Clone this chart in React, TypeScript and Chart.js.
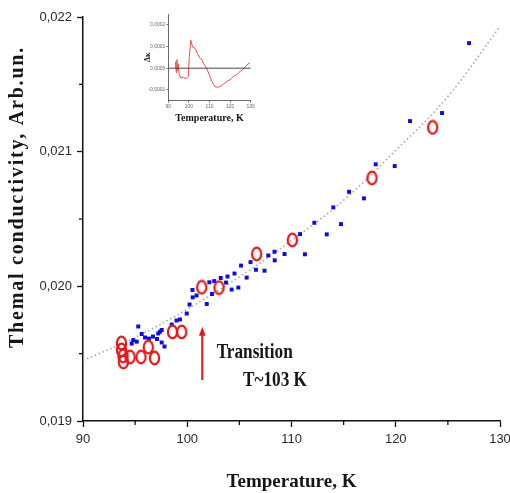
import React, { useEffect, useRef } from "react";
import { Chart, registerables } from "chart.js";
Chart.register(...registerables);

// ---- main chart data ----
const blueT = [95.30, 95.63, 94.82, 94.67, 95.15, 95.95, 96.33, 96.71, 97.22, 97.39, 97.10, 97.55, 97.82, 97.55, 98.51, 98.97, 99.30, 99.95, 100.22, 100.52, 100.89, 100.50, 101.87, 102.37, 102.12, 102.59, 103.21, 103.86, 104.53, 105.16, 105.70, 106.07, 106.59, 107.41, 107.77, 108.37, 108.39, 103.72, 104.26, 104.90, 109.33, 111.29, 110.82, 113.38, 112.19, 114.75, 114.01, 115.52, 116.95, 118.08, 119.90, 121.37, 124.44, 127.03];
const blueK = [0.019702, 0.019646, 0.019601, 0.019575, 0.019589, 0.019620, 0.019612, 0.019627, 0.019650, 0.019663, 0.019609, 0.019583, 0.019553, 0.019676, 0.019716, 0.019746, 0.019754, 0.019798, 0.019865, 0.019918, 0.019932, 0.019973, 0.019869, 0.019943, 0.020030, 0.020039, 0.020062, 0.020073, 0.020095, 0.020154, 0.020065, 0.020180, 0.020123, 0.020116, 0.020229, 0.020257, 0.020193, 0.020028, 0.019976, 0.019991, 0.020240, 0.020238, 0.020388, 0.020386, 0.020472, 0.020462, 0.020586, 0.020702, 0.020653, 0.020906, 0.020893, 0.021227, 0.021287, 0.021806];

const redT = [93.69, 93.69, 93.84, 93.87, 94.51, 95.56, 96.26, 96.86, 98.58, 99.47, 101.39, 103.05, 106.66, 110.08, 117.72, 123.54];
const redK = [0.019579, 0.019527, 0.019483, 0.019438, 0.019475, 0.019475, 0.019549, 0.019468, 0.019661, 0.019661, 0.019993, 0.019990, 0.020240, 0.020344, 0.020804, 0.021180];

const fitT = [90, 95, 100, 105, 110, 115, 120, 125, 130];
const fitK = [0.01945, 0.01962, 0.01983, 0.02007, 0.02034, 0.02064, 0.02101, 0.02141, 0.02193];

const xTickValues = [90, 95, 100, 105, 110, 115, 120, 125, 130];
const yTickValues = [0.019, 0.0195, 0.02, 0.0205, 0.021, 0.0215, 0.022];

// annotation: arrow and labels (data units)
const arrowT = 101.44;
const arrowFromK = 0.019304;
const arrowToK = 0.0197;
const labelTexts = ["Transition", "T~103 K"];
const labelT = [102.82, 105.35];
const labelK = [0.019505, 0.019298];

// ---- inset data ----
const insetT = [93.3, 93.6, 93.9, 94.2, 94.5, 94.8, 95.3, 96.0, 97.3, 98.6, 99.7, 100.2, 100.9, 101.8, 103.0, 104.1, 105.4, 106.2, 107.0, 108.6, 109.9, 111.1, 112.7, 114.3, 115.9, 117.5, 118.6, 120.0, 121.6, 123.2, 124.8, 126.4, 128.1, 129.7];
const insetD = [0, 0.00003, -0.00002, 0.00004, -0.00001, 0.00002, -0.00003, -0.000045, -0.000041, -0.000049, -0.000038, 0.000053, 0.000129, 0.000098, 0.000091, 0.000068, 0.000045, 0.000041, 0.000023, 0, -0.00003, -0.000061, -0.000086, -0.000088, -0.00008, -0.000068, -0.00006, -0.000053, -0.000038, -0.00003, -0.000015, -0.000005, 0.000015, 0.000025];
const insetZeroT = [90, 130];
const insetZeroD = [0, 0];
const insetXTicks = [90, 100, 110, 120, 130];
const insetYTicks = [-0.0001, 0, 0.0001, 0.0002];

const RED = "rgb(228,24,24)";
const BLUE = "rgb(12,12,226)";
const SERIF = '"Liberation Serif", "Times New Roman", serif';
const SANS = '"Liberation Sans", Arial, sans-serif';

function pts(xs: number[], ys: number[]) {
  return xs.map((x, i) => ({ x, y: ys[i] }));
}

function makeRing(): HTMLCanvasElement {
  const c = document.createElement("canvas");
  c.width = 13;
  c.height = 16;
  const g = c.getContext("2d")!;
  g.strokeStyle = RED;
  g.lineWidth = 2.2;
  g.beginPath();
  g.ellipse(6.5, 8, 4.6, 6.3, 0, 0, Math.PI * 2);
  g.stroke();
  return c;
}

// shorter minor ticks drawn on top of the axes
const minorTickPlugin = {
  id: "minorTicks",
  afterDraw(chart: any) {
    const { ctx, scales, chartArea } = chart;
    ctx.save();
    ctx.strokeStyle = "#111";
    ctx.lineWidth = 1.3;
    xTickValues.forEach((v) => {
      if (v % 10 === 0) return;
      const px = scales.x.getPixelForValue(v);
      ctx.beginPath();
      ctx.moveTo(px, chartArea.bottom);
      ctx.lineTo(px, chartArea.bottom + 4);
      ctx.stroke();
    });
    yTickValues.forEach((v) => {
      if (Math.round(v * 10000) % 10 === 0) return;
      const py = scales.y.getPixelForValue(v);
      ctx.beginPath();
      ctx.moveTo(chartArea.left, py);
      ctx.lineTo(chartArea.left - 4, py);
      ctx.stroke();
    });
    ctx.restore();
  },
};

const annotPlugin = {
  id: "annot",
  afterDatasetsDraw(chart: any) {
    const { ctx, scales } = chart;
    const x = scales.x;
    const y = scales.y;
    ctx.save();
    // arrow
    const ax = x.getPixelForValue(arrowT);
    const y0 = y.getPixelForValue(arrowFromK);
    const y1 = y.getPixelForValue(arrowToK);
    ctx.strokeStyle = RED;
    ctx.fillStyle = RED;
    ctx.lineWidth = 2;
    ctx.beginPath();
    ctx.moveTo(ax, y0);
    ctx.lineTo(ax, y1 + 6);
    ctx.stroke();
    ctx.beginPath();
    ctx.moveTo(ax, y1);
    ctx.lineTo(ax - 3.3, y1 + 9);
    ctx.lineTo(ax + 3.3, y1 + 9);
    ctx.closePath();
    ctx.fill();
    // labels (condensed bold serif)
    ctx.fillStyle = "#161616";
    ctx.font = `bold 20px ${SERIF}`;
    ctx.textBaseline = "middle";
    ctx.textAlign = "left";
    labelTexts.forEach((t, i) => {
      const px = x.getPixelForValue(labelT[i]);
      const py = y.getPixelForValue(labelK[i]);
      ctx.save();
      ctx.translate(px, py);
      ctx.scale(0.86, 1);
      ctx.fillText(t, 0, 0);
      ctx.restore();
    });
    // y-axis title
    ctx.save();
    ctx.translate(18, 197);
    ctx.rotate(-Math.PI / 2);
    ctx.font = `bold 20px ${SERIF}`;
    (ctx as any).letterSpacing = "1.8px";
    ctx.textAlign = "center";
    ctx.textBaseline = "middle";
    ctx.fillText("Themal conductivity, Arb.un.", 0, 0);
    ctx.restore();
    ctx.restore();
  },
};

export default function App() {
  const mainRef = useRef<HTMLCanvasElement>(null);
  const insetRef = useRef<HTMLCanvasElement>(null);

  useEffect(() => {
    const ring = makeRing();
    const main = new Chart(mainRef.current!, {
      type: "scatter",
      data: {
        datasets: [
          {
            label: "fit",
            data: pts(fitT, fitK),
            showLine: true,
            borderColor: "#a9a9a9",
            borderWidth: 1.6,
            borderDash: [1.6, 2.6],
            pointRadius: 0,
            tension: 0.4,
            order: 3,
          } as any,
          {
            label: "blue",
            data: pts(blueT, blueK),
            pointStyle: "rect",
            pointRadius: 2.8,
            backgroundColor: BLUE,
            borderWidth: 0,
            order: 2,
          },
          {
            label: "red",
            data: pts(redT, redK),
            pointStyle: ring as any,
            pointRadius: 6,
            order: 1,
          },
        ],
      },
      options: {
        animation: false,
        responsive: false,
        layout: { padding: { top: 17, right: 10, left: 0, bottom: 0 } },
        plugins: { legend: { display: false }, tooltip: { enabled: false } },
        scales: {
          x: {
            type: "linear",
            min: 90,
            max: 130,
            afterBuildTicks: (s: any) => {
              s.ticks = xTickValues.map((value) => ({ value }));
            },
            afterFit: (s: any) => {
              s.height = 72;
              s.paddingLeft = 0;
              s.paddingRight = 0;
            },
            ticks: {
              autoSkip: false,
              maxRotation: 0,
              padding: 5,
              color: "#2a2a2a",
              font: { family: SANS, size: 13 },
              callback: (v: any) => (Math.round(Number(v)) % 10 === 0 ? String(Math.round(Number(v))) : ""),
            },
            grid: {
              drawOnChartArea: false,
              tickLength: 6,
              tickColor: (c: any) => (c.tick && Math.round(c.tick.value) % 10 === 0 ? "#111" : "rgba(0,0,0,0)"),
              tickWidth: 1.3,
            },
            border: { color: "#111", width: 1.5 },
            title: {
              display: true,
              text: "Temperature, K",
              color: "#141414",
              font: { family: SERIF, size: 19, weight: "bold" },
              padding: { top: 0, bottom: 0 },
            },
          },
          y: {
            type: "linear",
            min: 0.019,
            max: 0.022,
            afterBuildTicks: (s: any) => {
              s.ticks = yTickValues.map((value) => ({ value }));
            },
            afterFit: (s: any) => {
              s.width = 83;
              s.paddingTop = 0;
              s.paddingBottom = 0;
            },
            ticks: {
              autoSkip: false,
              padding: 5,
              color: "#2a2a2a",
              font: { family: SANS, size: 13 },
              callback: (v: any) => {
                const n = Math.round(Number(v) * 10000);
                return n % 10 === 0 ? (n / 10000).toFixed(3).replace(".", ",") : "";
              },
            },
            grid: {
              drawOnChartArea: false,
              tickLength: 6,
              tickColor: (c: any) => (c.tick && Math.round(c.tick.value * 10000) % 10 === 0 ? "#111" : "rgba(0,0,0,0)"),
              tickWidth: 1.3,
            },
            border: { color: "#111", width: 1.5 },
            title: { display: false },
          },
        },
      },
      plugins: [annotPlugin, minorTickPlugin],
    });

    const inset = new Chart(insetRef.current!, {
      type: "scatter",
      data: {
        datasets: [
          {
            label: "zero",
            data: pts(insetZeroT, insetZeroD),
            showLine: true,
            borderColor: "#333",
            borderWidth: 0.9,
            pointRadius: 0,
          },
          {
            label: "delta",
            data: pts(insetT, insetD),
            showLine: true,
            borderColor: "rgb(238,80,80)",
            borderWidth: 1,
            pointRadius: 0,
            tension: 0,
          },
        ],
      },
      options: {
        animation: false,
        responsive: false,
        layout: { padding: { top: 10, right: 14.3, left: 0, bottom: 0 } },
        plugins: { legend: { display: false }, tooltip: { enabled: false } },
        scales: {
          x: {
            type: "linear",
            min: 90,
            max: 130,
            afterBuildTicks: (s: any) => {
              s.ticks = insetXTicks.map((value) => ({ value }));
            },
            afterFit: (s: any) => {
              s.height = 29.3;
              s.paddingLeft = 0;
              s.paddingRight = 0;
            },
            ticks: {
              autoSkip: false,
              maxRotation: 0,
              padding: 1.3,
              color: "#666",
              font: { family: SANS, size: 5 },
            },
            grid: { drawOnChartArea: false, tickLength: 2, tickColor: "#444", tickWidth: 0.7 },
            border: { color: "#444", width: 0.8 },
            title: {
              display: true,
              text: "Temperature, K",
              color: "#141414",
              font: { family: SERIF, size: 10, weight: "bold" },
              padding: { top: 0, bottom: 5.5 },
            },
          },
          y: {
            type: "linear",
            min: -0.00015,
            max: 0.00025,
            afterBuildTicks: (s: any) => {
              s.ticks = insetYTicks.map((value) => ({ value }));
            },
            afterFit: (s: any) => {
              s.width = 28.3;
              s.paddingTop = 0;
              s.paddingBottom = 0;
            },
            ticks: {
              autoSkip: false,
              padding: 1,
              color: "#666",
              font: { family: SANS, size: 5 },
              callback: (v: any) => Number(v).toFixed(4).replace(".", ","),
            },
            grid: { drawOnChartArea: false, tickLength: 2, tickColor: "#444", tickWidth: 0.7 },
            border: { color: "#444", width: 0.8 },
            title: {
              display: true,
              text: "Δκ",
              color: "#141414",
              font: { family: SERIF, size: 8, weight: "bold" },
              padding: { top: 3, bottom: 0 },
            },
          },
        },
      },
    });

    return () => {
      main.destroy();
      inset.destroy();
    };
  }, []);

  return (
    <div style={{ position: "fixed", left: 0, top: 0, width: 510, height: 493, background: "#fff" }}>
      <canvas
        ref={mainRef}
        width={510}
        height={493}
        style={{ position: "absolute", left: 0, top: 0, width: 510, height: 493 }}
      />
      <canvas
        ref={insetRef}
        width={125}
        height={126}
        style={{ position: "absolute", left: 140, top: 4, width: 125, height: 126 }}
      />
    </div>
  );
}
